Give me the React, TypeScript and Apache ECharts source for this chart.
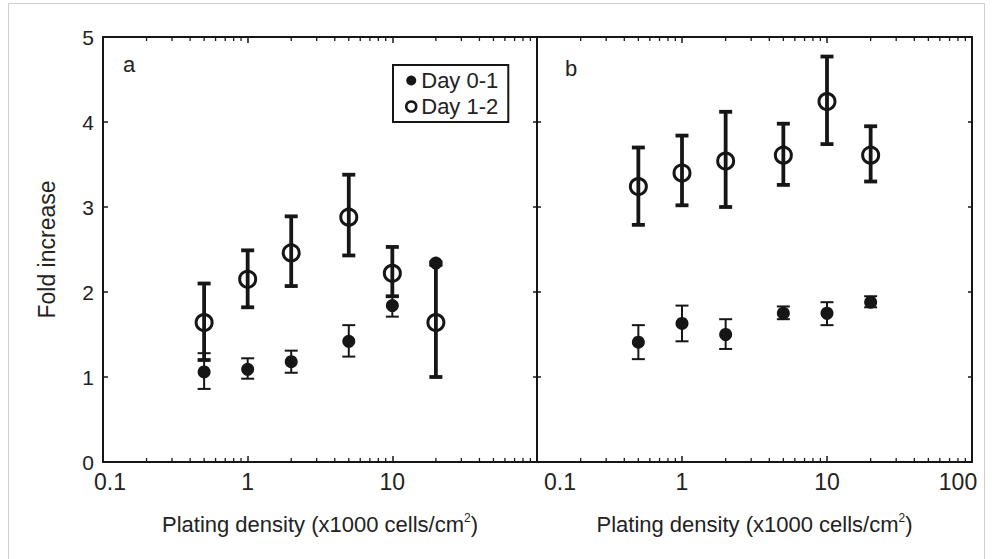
import React, { useEffect, useRef } from "react";
import * as echarts from "echarts";

// Plating density (x1000 cells/cm²)
const xValues = [0.5, 1, 2, 5, 10, 20];

// Panel a
const aDay01 = [1.06, 1.09, 1.18, 1.42, 1.84, 2.34];
const aDay01Lo = [0.86, 0.98, 1.05, 1.24, 1.71, 2.31];
const aDay01Hi = [1.28, 1.22, 1.31, 1.61, 1.95, 2.36];
const aDay12 = [1.64, 2.15, 2.46, 2.88, 2.22, 1.64];
const aDay12Lo = [1.2, 1.82, 2.07, 2.43, 1.95, 1.0];
const aDay12Hi = [2.1, 2.49, 2.89, 3.38, 2.53, 2.33];

// Panel b
const bDay01 = [1.41, 1.63, 1.5, 1.75, 1.75, 1.88];
const bDay01Lo = [1.21, 1.42, 1.33, 1.68, 1.61, 1.82];
const bDay01Hi = [1.61, 1.84, 1.68, 1.83, 1.88, 1.95];
const bDay12 = [3.24, 3.4, 3.54, 3.61, 4.24, 3.61];
const bDay12Lo = [2.79, 3.02, 3.0, 3.26, 3.74, 3.3];
const bDay12Hi = [3.7, 3.84, 4.12, 3.98, 4.77, 3.95];

const xMajorTicks = [0.1, 1, 10, 100];
const xMinorTicks = [0.2, 0.3, 0.4, 0.5, 0.6, 0.7, 0.8, 0.9, 2, 3, 4, 5, 6, 7, 8, 9, 20, 30, 40, 50, 60, 70, 80, 90];
const xTickLabelsA = ["0.1", "1", "10"];
const xTickLabelsB = ["0.1", "1", "10", "100"];
const yTicks = [0, 1, 2, 3, 4, 5];

const FONT = '"Liberation Sans", Arial, Helvetica, sans-serif';
const INK = "#161616";
const TXT = "#222222";

export default function App() {
  const ref = useRef<HTMLDivElement>(null);

  useEffect(() => {
    document.body.style.margin = "0";
    document.body.style.overflow = "hidden";
    if (!ref.current) return;
    const chart = echarts.init(ref.current, undefined, { renderer: "svg" });

    const labelIndex = (v: number, list: number[]) =>
      list.findIndex((t) => Math.abs(Math.log10(t) - Math.log10(v)) < 1e-6);

    const xRich = {
      c: { fontSize: 23, fontFamily: FONT, color: TXT },
      sa: { fontSize: 23, fontFamily: FONT, color: TXT, padding: [0, 0, 0, 14] },
      sl: { fontSize: 23, fontFamily: FONT, color: TXT, padding: [0, 0, 0, 46] },
      sr: { fontSize: 23, fontFamily: FONT, color: TXT, padding: [0, 28, 0, 0] },
    };

    const xName = "Plating density (x1000 cells/cm{sup|2})";
    const xNameStyle = {
      fontSize: 22,
      fontFamily: FONT,
      color: TXT,
      lineHeight: 24,
      rich: {
        sup: { fontSize: 12, fontFamily: FONT, color: TXT, verticalAlign: "top", lineHeight: 12 },
      },
    };

    const makeX = (gridIndex: number, panel: "a" | "b") => {
      const labels = panel === "a" ? xTickLabelsA : xTickLabelsB;
      const labelVals = xMajorTicks.slice(0, labels.length);
      const base = {
        type: "log",
        logBase: 10,
        min: xMajorTicks[0],
        max: xMajorTicks[xMajorTicks.length - 1],
        gridIndex,
        splitLine: { show: false },
        minorTick: { show: false },
      };
      return [
        {
          ...base,
          position: "bottom",
          axisLine: { show: true, onZero: false, lineStyle: { color: INK, width: 2 } },
          axisTick: { show: true, inside: true, length: 6, customValues: xMajorTicks, lineStyle: { color: INK, width: 1.5 } },
          axisLabel: {
            show: true,
            margin: 8,
            customValues: labelVals,
            fontSize: 23,
            fontFamily: FONT,
            color: TXT,
            rich: xRich,
            formatter: (v: number) => {
              const i = labelIndex(v, labelVals);
              if (i < 0) return "";
              const t = labels[i];
              if (i === 0) return panel === "a" ? `{sa|${t}}` : `{sl|${t}}`;
              if (i === 3) return `{sr|${t}}`;
              return `{c|${t}}`;
            },
          },
          name: xName,
          nameLocation: "middle",
          nameGap: 50,
          nameTextStyle: xNameStyle,
        },
        {
          ...base,
          position: "top",
          axisLine: { show: true, onZero: false, lineStyle: { color: INK, width: 2 } },
          axisTick: { show: true, inside: true, length: 6, customValues: xMajorTicks, lineStyle: { color: INK, width: 1.5 } },
          axisLabel: { show: false },
        },
      ];
    };

    const makeY = (gridIndex: number, position: "left" | "right", withLabels: boolean) => ({
      type: "value",
      gridIndex,
      position,
      min: yTicks[0],
      max: yTicks[yTicks.length - 1],
      interval: 1,
      splitLine: { show: false },
      axisLine: { show: true, onZero: false, lineStyle: { color: INK, width: 2 } },
      axisTick: { show: true, inside: true, length: withLabels ? 5 : 4, lineStyle: { color: INK, width: 1.5 } },
      axisLabel: {
        show: withLabels,
        margin: 9,
        fontSize: 21,
        fontFamily: FONT,
        color: TXT,
        formatter: (v: number) => String(v),
      },
      ...(withLabels
        ? {
            name: "Fold increase",
            nameLocation: "middle",
            nameGap: 45,
            nameTextStyle: { fontSize: 23, fontFamily: FONT, color: TXT },
          }
        : {}),
    });

    const errData = (lo: number[], hi: number[]) => xValues.map((x, i) => [x, lo[i], hi[i]]);
    const ptData = (ys: number[]) => xValues.map((x, i) => [x, ys[i]]);

    const errSeries = (name: string, lo: number[], hi: number[], xi: number, yi: number, w: number) => ({
      type: "custom",
      name,
      xAxisIndex: xi,
      yAxisIndex: yi,
      encode: { x: 0, y: [1, 2] },
      data: errData(lo, hi),
      z: 5,
      renderItem: (_p: any, api: any) => {
        const x = api.value(0);
        const pLo = api.coord([x, api.value(1)]);
        const pHi = api.coord([x, api.value(2)]);
        const hw = 6.5;
        const style = { stroke: INK, lineWidth: w };
        return {
          type: "group",
          children: [
            { type: "line", shape: { x1: pLo[0], y1: pLo[1], x2: pHi[0], y2: pHi[1] }, style },
            { type: "line", shape: { x1: pLo[0] - hw, y1: pLo[1], x2: pLo[0] + hw, y2: pLo[1] }, style },
            { type: "line", shape: { x1: pHi[0] - hw, y1: pHi[1], x2: pHi[0] + hw, y2: pHi[1] }, style },
          ],
        };
      },
    });

    // minor log ticks on bottom and top edges, placed through the axis scale
    const minorTickSeries = (name: string, xi: number, yi: number) => ({
      type: "custom",
      name,
      xAxisIndex: xi,
      yAxisIndex: yi,
      clip: false,
      silent: true,
      encode: { x: 0 },
      data: xMinorTicks.map((v) => [v]),
      z: 3,
      renderItem: (_p: any, api: any) => {
        const x = api.value(0);
        const pB = api.coord([x, yTicks[0]]);
        const pT = api.coord([x, yTicks[yTicks.length - 1]]);
        const style = { stroke: INK, lineWidth: 1.3 };
        return {
          type: "group",
          children: [
            { type: "line", shape: { x1: pB[0], y1: pB[1], x2: pB[0], y2: pB[1] - 4 }, style },
            { type: "line", shape: { x1: pT[0], y1: pT[1], x2: pT[0], y2: pT[1] + 4 }, style },
          ],
        };
      },
    });

    const filled = (ys: number[], xi: number, yi: number) => ({
      type: "scatter",
      name: "Day 0-1",
      xAxisIndex: xi,
      yAxisIndex: yi,
      data: ptData(ys),
      symbol: "circle",
      symbolSize: 13,
      itemStyle: { color: INK, opacity: 1 },
      z: 4,
    });
    const open = (ys: number[], xi: number, yi: number) => ({
      type: "scatter",
      name: "Day 1-2",
      xAxisIndex: xi,
      yAxisIndex: yi,
      data: ptData(ys),
      symbol: "circle",
      symbolSize: 16,
      itemStyle: { color: "rgba(255,255,255,0)", borderColor: INK, borderWidth: 3, opacity: 1 },
      z: 4,
    });

    const option: any = {
      animation: false,
      backgroundColor: "#ffffff",
      textStyle: { fontFamily: FONT },
      grid: [
        { left: 103, top: 37, width: 434, height: 425, outerBoundsMode: "none" },
        { left: 537, top: 37, width: 435, height: 425, outerBoundsMode: "none" },
      ],
      xAxis: [...makeX(0, "a"), ...makeX(1, "b")],
      yAxis: [makeY(0, "left", true), makeY(0, "right", false), makeY(1, "left", false), makeY(1, "right", false)],
      legend: {
        orient: "vertical",
        left: 393,
        top: 65,
        padding: [4, 10, 4, 12],
        itemGap: 3,
        itemWidth: 10,
        itemHeight: 10,
        itemTextGap: 12,
        borderColor: INK,
        borderWidth: 2,
        borderRadius: 0,
        backgroundColor: "#ffffff",
        textStyle: { fontSize: 22, fontFamily: FONT, color: TXT, lineHeight: 23 },
        data: [
          { name: "Day 0-1", icon: "circle", itemStyle: { color: INK, borderWidth: 0 } },
          { name: "Day 1-2", icon: "circle", itemStyle: { color: "#ffffff", borderColor: INK, borderWidth: 2.5 } },
        ],
      },
      graphic: [
        {
          type: "rect",
          shape: { x: 8.5, y: 3.5, width: 976, height: 600 },
          style: { fill: "none", stroke: "#cfcfcf", lineWidth: 1 },
          silent: true,
        },
        {
          type: "text",
          style: { text: "a", x: 123, y: 64, fontSize: 22, fontFamily: FONT, fill: TXT, verticalAlign: "middle" },
        },
        {
          type: "text",
          style: { text: "b", x: 565, y: 68, fontSize: 22, fontFamily: FONT, fill: TXT, verticalAlign: "middle" },
        },
      ],
      series: [
        minorTickSeries("ticksA", 0, 0),
        minorTickSeries("ticksB", 2, 2),
        filled(aDay01, 0, 0),
        open(aDay12, 0, 0),
        errSeries("errA01", aDay01Lo, aDay01Hi, 0, 0, 2),
        errSeries("errA12", aDay12Lo, aDay12Hi, 0, 0, 3.8),
        filled(bDay01, 2, 2),
        open(bDay12, 2, 2),
        errSeries("errB01", bDay01Lo, bDay01Hi, 2, 2, 2),
        errSeries("errB12", bDay12Lo, bDay12Hi, 2, 2, 3.8),
      ],
    };

    chart.setOption(option);
    return () => chart.dispose();
  }, []);

  return <div ref={ref} style={{ width: 997, height: 559 }} />;
}
